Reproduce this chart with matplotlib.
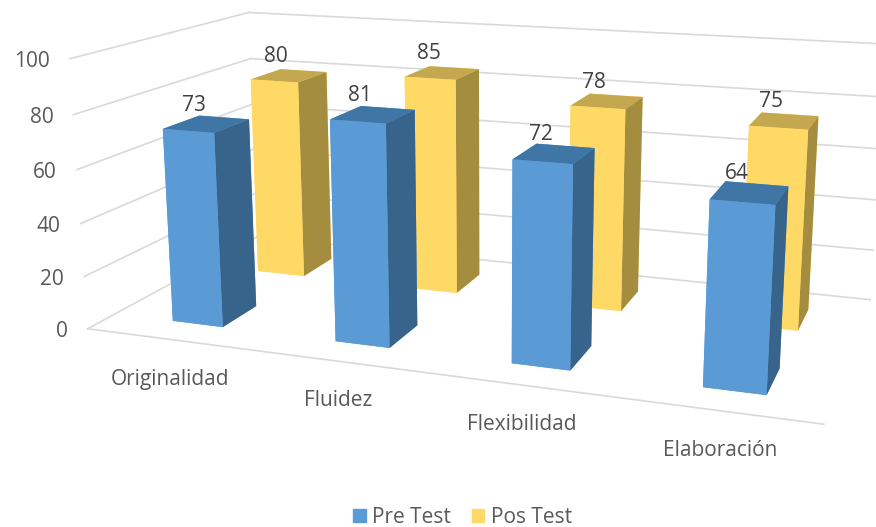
import matplotlib
matplotlib.use("Agg")
import matplotlib.pyplot as plt
from matplotlib.patches import Patch
from mpl_toolkits.mplot3d import proj3d

categories = ["Originalidad", "Fluidez", "Flexibilidad", "Elaboración"]
pre_test = [73, 81, 72, 64]
pos_test = [80, 85, 78, 75]
z_ticks = [0, 20, 40, 60, 80, 100]
series_names = ["Pre Test", "Pos Test"]

plt.rcParams['font.family'] = ['Open Sans', 'DejaVu Sans']
GRID = "#d9d9d9"; TXT = "#595959"; FS = 15
W_, H_, S = 876, 527, 1200
X0, Y0 = -126.161, -274.482
A, W, B, D, B2 = 0.372, 0.315, 0.278, 0.395, 1.299

fig = plt.figure(figsize=(8.76, 5.27), dpi=100)
ax = fig.add_axes([X0 / W_, Y0 / H_, S / W_, S / H_], projection="3d", computed_zorder=False)
ax.set_proj_type("persp", focal_length=0.237)
ax.view_init(elev=13.916, azim=-70.393)
ax.set_xlim(0, 4); ax.set_ylim(0, 2); ax.set_zlim(0, 100)
ax.set_box_aspect((4, 1.968, 1.5), zoom=0.686)
ax.set_axis_off()
PROJ = ax.get_proj()

def label(x, y, z, s, off=(0, 0), **kw):
    px, py, _ = proj3d.proj_transform(x, y, z, PROJ)
    ax.annotate(s, xy=(px, py), xycoords="data", xytext=off, textcoords="offset pixels",
                ha=kw.pop("ha", "center"), va="center", zorder=30, annotation_clip=False, **kw)

for z in z_ticks:
    ax.plot([0, 0], [0, 2], [z, z], color=GRID, lw=1.2, zorder=1)
    ax.plot([0, 4], [2, 2], [z, z], color=GRID, lw=1.2, zorder=1)
    label(0, 0, z, str(z), off=(-20, -3), color=TXT, fontsize=FS, ha="right")
ax.plot([0, 4], [0, 0], [0, 0], color=GRID, lw=1.2, zorder=1)

yellow = ["#ffd966", "#c4a84f", "#ffd966", "#ffd966", "#ffd966", "#a58d3f"]
blue = ["#5b9bd5", "#4076a6", "#5b9bd5", "#5b9bd5", "#5b9bd5", "#38648c"]
for y0, vals, col, base in [(B2, pos_test, yellow, 5), (B, pre_test, blue, 10)]:
    for i, v in enumerate(vals):
        ax.bar3d(i + A, y0, 0, W, D, v, color=col, shade=False, zorder=base + i)
        label(i + A + W / 2, y0 + D / 2, v, str(v), off=(-13, 19), color="#404040", fontsize=FS)
for i, c in enumerate(categories):
    label(i + 0.5, 0, 0, c, off=(3, -40), color=TXT, fontsize=FS)

handles = [Patch(color="#5b9bd5"), Patch(color="#ffd966")]
fig.legend(handles, series_names, loc="lower center", ncol=2, frameon=False, fontsize=FS,
           labelcolor=TXT, handlelength=0.6, handleheight=0.6, handletextpad=0.3,
           columnspacing=1.0, borderaxespad=0, borderpad=0, bbox_to_anchor=(0.528, -0.002))
fig.savefig("out.png", dpi=100)
